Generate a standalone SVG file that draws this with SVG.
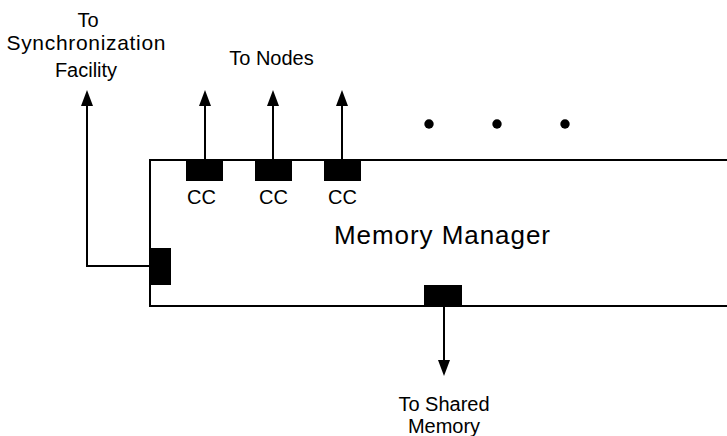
<svg xmlns="http://www.w3.org/2000/svg" width="727" height="436" viewBox="0 0 727 436">
  <style>
    .edge { stroke: #000; stroke-width: 2; fill: none; }
    .port { fill: #000; }
    .lbl { font-family: "Liberation Sans", Arial, sans-serif; font-size: 20px; fill: #000; text-anchor: middle; }
    .big { font-size: 26px; }
  </style>
  <defs>
    <!-- filled triangular head; tip sits 12px past the end of the line -->
    <marker id="arrow" viewBox="0 0 16 12" refX="4" refY="6" markerWidth="16" markerHeight="12" markerUnits="userSpaceOnUse" orient="auto">
      <path d="M0,0 L16,6 L0,12 Z" fill="#000"/>
    </marker>
  </defs>

  <g id="memory-manager">
    <path class="edge" d="M727,160 H150 V306 H727"/>
    <text class="lbl big" x="442" y="244" textLength="216" lengthAdjust="spacing">Memory Manager</text>
  </g>

  <g id="cc1">
    <rect class="port" x="186" y="160" width="37" height="21"/>
    <text class="lbl" x="201.5" y="204">CC</text>
  </g>
  <g id="cc2">
    <rect class="port" x="255" y="160" width="37" height="21"/>
    <text class="lbl" x="273.5" y="204">CC</text>
  </g>
  <g id="cc3">
    <rect class="port" x="324" y="160" width="37" height="21"/>
    <text class="lbl" x="342.5" y="204">CC</text>
  </g>
  <g id="sync-port">
    <rect class="port" x="150" y="248" width="21" height="37"/>
  </g>
  <g id="memory-port">
    <rect class="port" x="424" y="285" width="38" height="20"/>
  </g>

  <g id="ellipsis">
    <circle cx="429" cy="124" r="4.7"/>
    <circle cx="497" cy="124" r="4.7"/>
    <circle cx="565" cy="124" r="4.7"/>
  </g>

  <g id="labels">
    <text class="lbl" x="88" y="27">To</text>
    <text class="lbl" x="86" y="50" style="font-size:21px" textLength="159" lengthAdjust="spacing">Synchronization</text>
    <text class="lbl" x="86" y="77">Facility</text>
    <text class="lbl" x="271.5" y="65">To Nodes</text>
    <text class="lbl" x="444" y="411">To Shared</text>
    <text class="lbl" x="444" y="433">Memory</text>
  </g>

  <g id="connectors">
    <path class="edge" d="M205,160 V102" marker-end="url(#arrow)"/>
    <path class="edge" d="M273,160 V102" marker-end="url(#arrow)"/>
    <path class="edge" d="M342,160 V102" marker-end="url(#arrow)"/>
    <path class="edge" d="M150,266 H87 V102" marker-end="url(#arrow)"/>
    <path class="edge" d="M444,305 V364" marker-end="url(#arrow)"/>
  </g>
</svg>
